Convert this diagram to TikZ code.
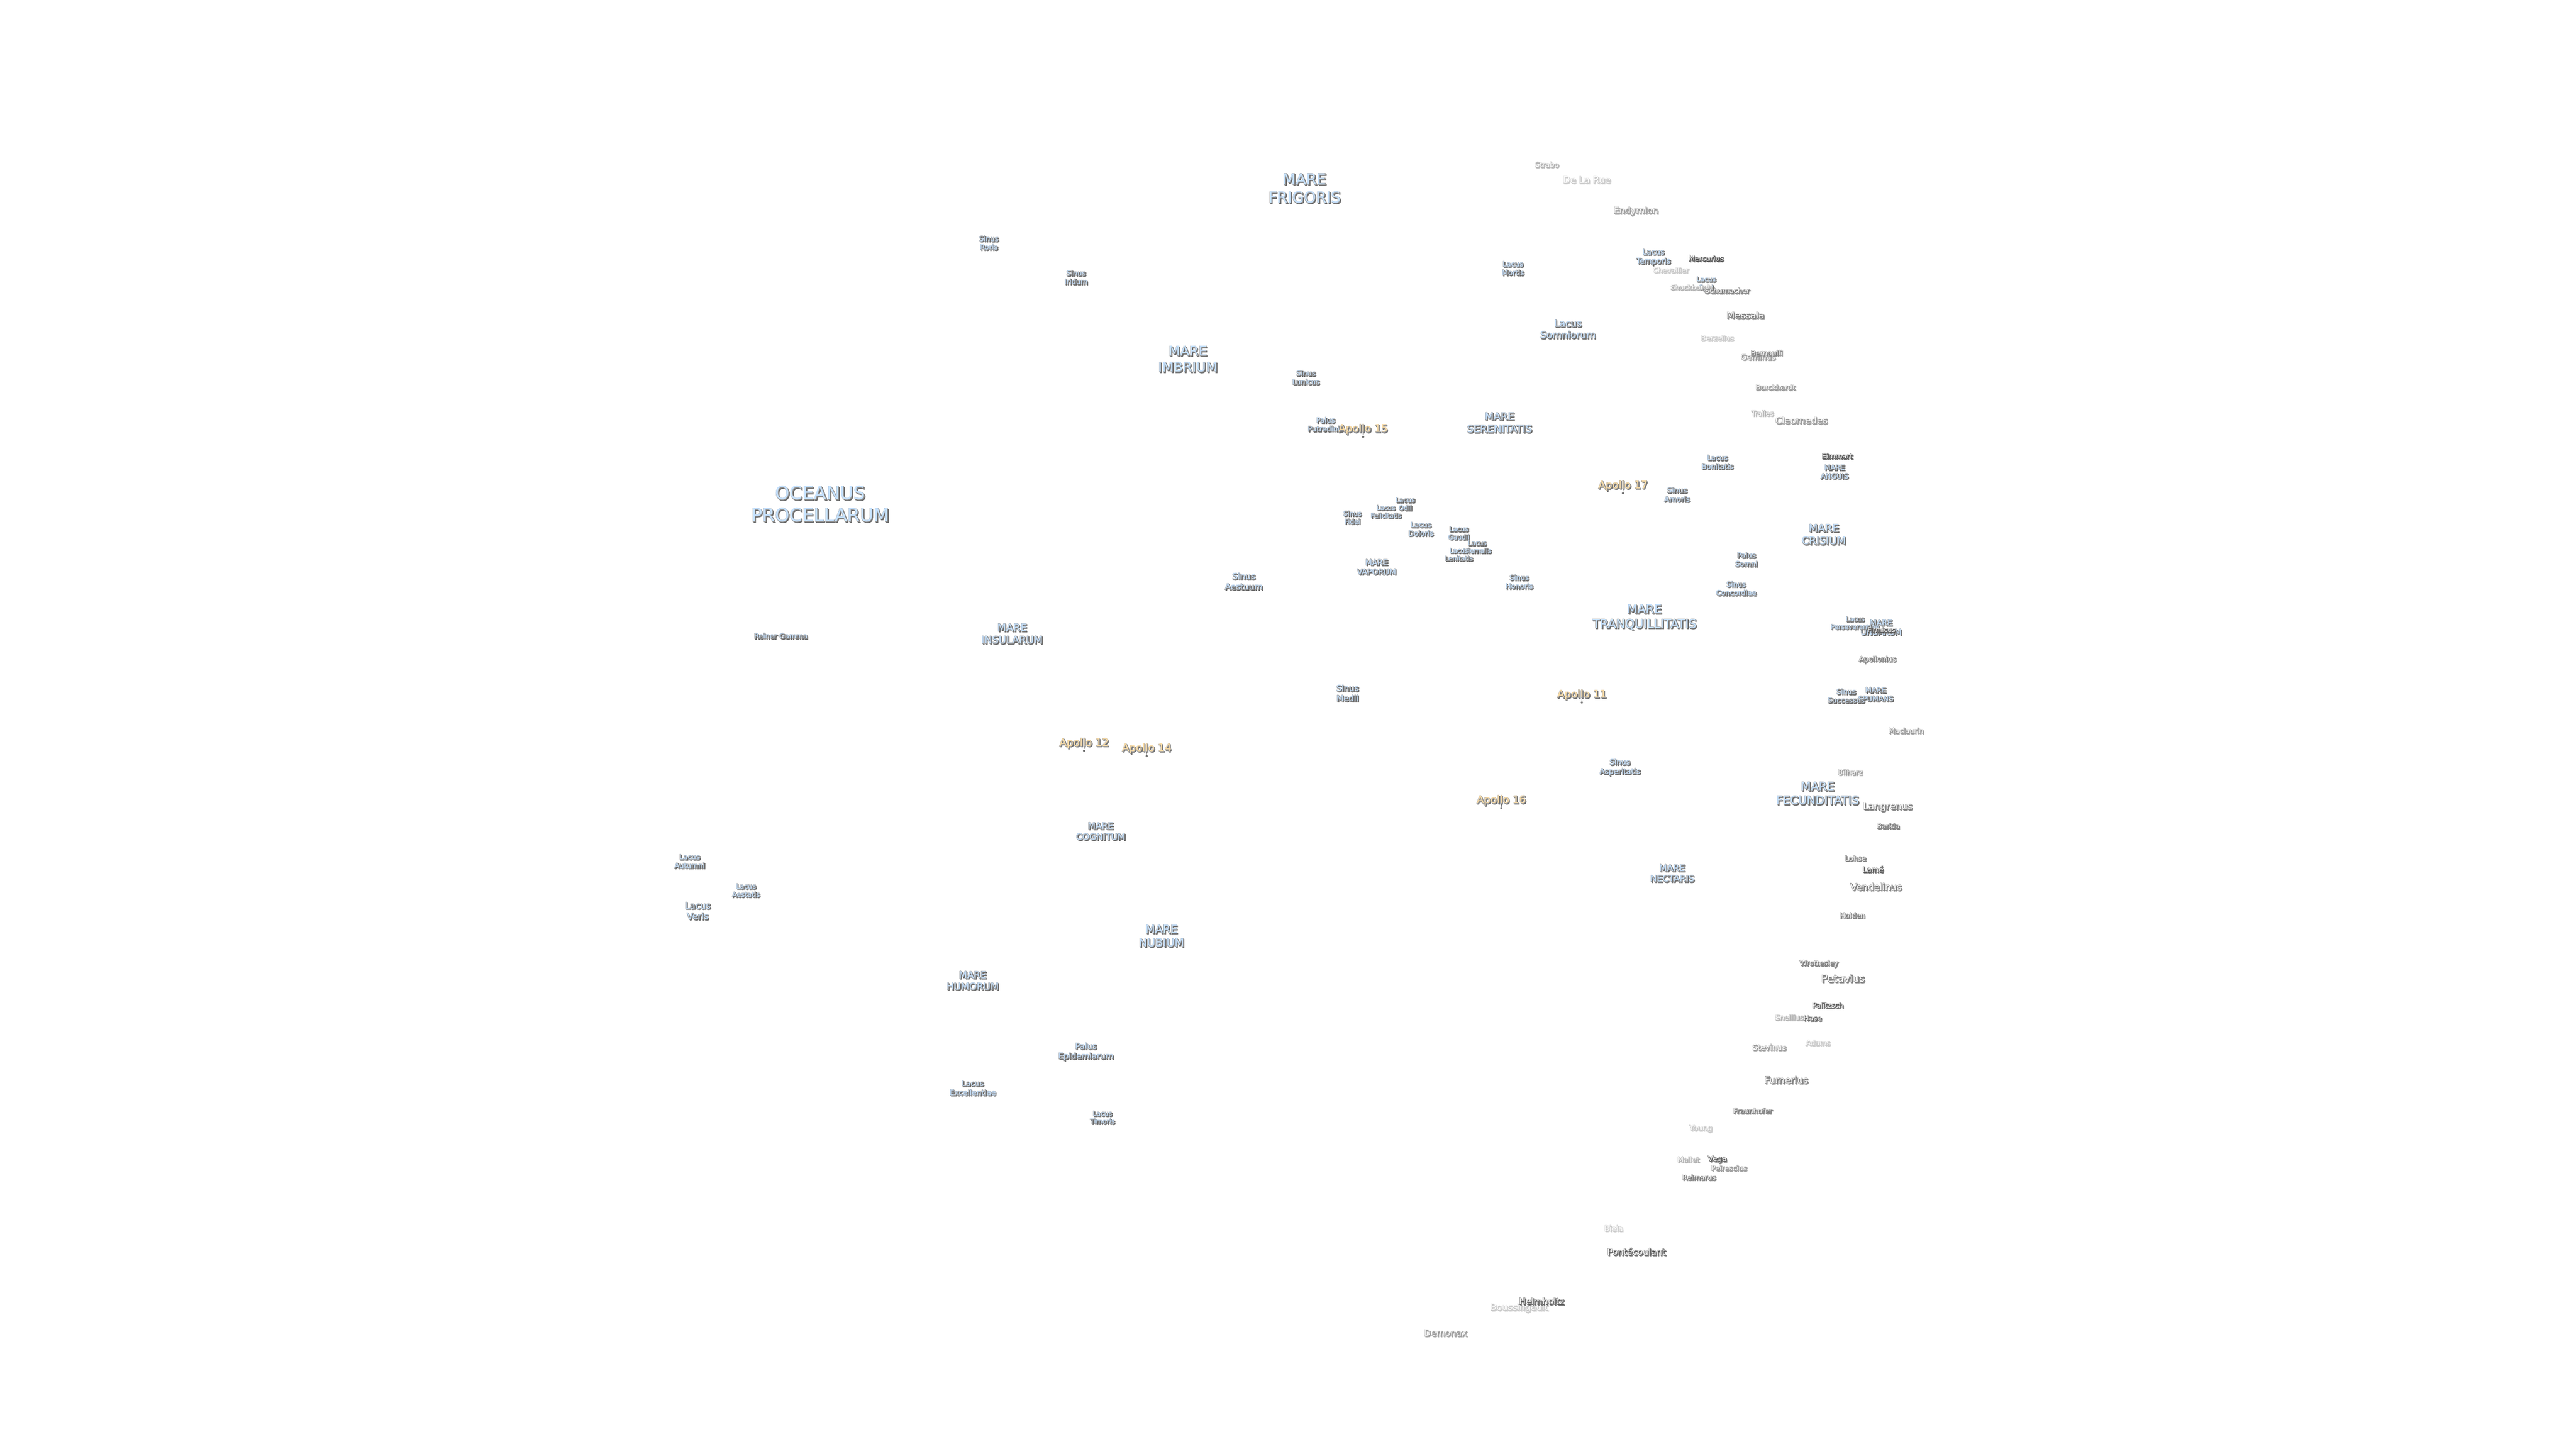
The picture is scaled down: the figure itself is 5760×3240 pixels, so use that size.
\documentclass[tikz,border=0pt]{standalone}
\usepackage{fontspec}
\setmainfont{DejaVu Sans}
\definecolor{seablue}{HTML}{C6E2FF}
\definecolor{sitegold}{HTML}{FFDFA6}
\newcommand{\edgelev}{0.6}
\newcommand{\shadelev}{0.42}
\newcommand{\outl}[2]{\special{pdf:code 2 Tr 0.3 w #1\space G}\textcolor[gray]{#1}{#2}\special{pdf:code 0 Tr}}
\newcommand{\tx}[1]{\leavevmode\rlap{\kern.4pt\raisebox{-.4pt}{\outl{\shadelev}{#1}}}\rlap{\outl{\edgelev}{#1}}#1}
\tikzstyle{fsz}=[font=\fontsize{#1}{\the\dimexpr#1pt*12/10\relax}\selectfont]
\tikzstyle{sea}=[inner sep=0pt, align=center, text=seablue, fsz=#1]
\tikzstyle{site}=[inner sep=0pt, text=sitegold, fsz=4.7,
    execute at begin node={\def\edgelev{0.62}\def\shadelev{0.45}}]
\tikzstyle{sitedot}=[circle, fill=black!55, inner sep=0pt, minimum size=1pt]
\tikzstyle{sitetick}=[black!55, line width=.3pt]
\tikzstyle{cratera}=[inner sep=0pt, text=white, fsz=#1,
    execute at begin node={\def\edgelev{0.3}\def\shadelev{0.5}}]
\tikzstyle{craterb}=[inner sep=0pt, text=white, fsz=#1,
    execute at begin node={\def\edgelev{0.48}\def\shadelev{0.56}}]
\tikzstyle{craterc}=[inner sep=0pt, text=white, fsz=#1,
    execute at begin node={\def\edgelev{0.6}\def\shadelev{0.66}}]
\tikzstyle{craterd}=[inner sep=0pt, text=white, fsz=#1,
    execute at begin node={\def\edgelev{0.7}\def\shadelev{0.74}}]
\tikzstyle{cratere}=[inner sep=0pt, text=white, fsz=#1,
    execute at begin node={\def\edgelev{0.78}\def\shadelev{0.82}}]
\begin{document}
\begin{tikzpicture}[x=.2pt, y=-.2pt]
    \useasboundingbox (0,0) rectangle (5760,3240);
    % seas
    \node[sea=8.2] (oceanus) at (1834,1128) {\tx{OCEANUS}\\\tx{PROCELLARUM}};
    \node[sea=6.8] (frigoris) at (2917,422) {\tx{MARE}\\\tx{FRIGORIS}};
    \node[sea=6] (imbrium) at (2656,804) {\tx{MARE}\\\tx{IMBRIUM}};
    \node[sea=4.6] (serenitatis) at (3353,946) {\tx{MARE}\\\tx{SERENITATIS}};
    \node[sea=5.4] (tranquillitatis) at (3677,1381) {\tx{MARE}\\\tx{TRANQUILLITATIS}};
    \node[sea=4.7] (crisium) at (4078,1196) {\tx{MARE}\\\tx{CRISIUM}};
    \node[sea=5.2] (fecunditatis) at (4064,1775) {\tx{MARE}\\\tx{FECUNDITATIS}};
    \node[sea=4] (nectaris) at (3739,1954) {\tx{MARE}\\\tx{NECTARIS}};
    \node[sea=5] (nubium) at (2597,2094) {\tx{MARE}\\\tx{NUBIUM}};
    \node[sea=4.3] (humorum) at (2175,2194) {\tx{MARE}\\\tx{HUMORUM}};
    \node[sea=4] (cognitum) at (2461,1860) {\tx{MARE}\\\tx{COGNITUM}};
    \node[sea=4.6] (insularum) at (2263,1418) {\tx{MARE}\\\tx{INSULARUM}};
    \node[sea=3.5] (vaporum) at (3078,1269) {\tx{MARE}\\\tx{VAPORUM}};
    \node[sea=3.2] (anguis) at (4102,1056) {\tx{MARE}\\\tx{ANGUIS}};
    \node[sea=3.5] (undarum) at (4206,1404) {\tx{MARE}\\\tx{UNDARUM}};
    \node[sea=3.2] (spumans) at (4194,1554) {\tx{MARE}\\\tx{SPUMANS}};
    % lakes, bays, marshes
    \node[sea=3.2] (roris) at (2211,544) {\tx{Sinus}\\\tx{Roris}};
    \node[sea=3.2] (iridum) at (2406,621) {\tx{Sinus}\\\tx{Iridum}};
    \node[sea=3.2] (lunicus) at (2920,845) {\tx{Sinus}\\\tx{Lunicus}};
    \node[sea=3.2] (putredinis) at (2964,950) {\tx{Palus}\\\tx{Putredinis}};
    \node[sea=4.3] (somniorumlake) at (3506,737) {\tx{Lacus}\\\tx{Somniorum}};
    \node[sea=3.2] (mortis) at (3383,601) {\tx{Lacus}\\\tx{Mortis}};
    \node[sea=3.4] (temporis) at (3697,576) {\tx{Lacus}\\\tx{Temporis}};
    \node[sea=3] (spei) at (3815,636) {\tx{Lacus}\\\tx{Spei}};
    \node[sea=3.2] (bonitatis) at (3840,1034) {\tx{Lacus}\\\tx{Bonitatis}};
    \node[sea=3.3] (amoris) at (3750,1107) {\tx{Sinus}\\\tx{Amoris}};
    \node[sea=3.2] (somni) at (3905,1252) {\tx{Palus}\\\tx{Somni}};
    \node[sea=3.2] (concordiae) at (3882,1317) {\tx{Sinus}\\\tx{Concordiae}};
    \node[sea=3] (odii) at (3142,1128) {\tx{Lacus}\\\tx{Odii}};
    \node[sea=2.9] (felicitatis) at (3099,1145) {\tx{Lacus}\\\tx{Felicitatis}};
    \node[sea=3] (fidei) at (3024,1158) {\tx{Sinus}\\\tx{Fidei}};
    \node[sea=3.2] (doloris) at (3177,1184) {\tx{Lacus}\\\tx{Doloris}};
    \node[sea=3] (gaudii) at (3262,1193) {\tx{Lacus}\\\tx{Gaudii}};
    \node[sea=2.9] (hiemalis) at (3303,1224) {\tx{Lacus}\\\tx{Hiemalis}};
    \node[sea=2.9] (lenitatis) at (3262,1241) {\tx{Lacus}\\\tx{Lenitatis}};
    \node[sea=3.2] (honoris) at (3397,1302) {\tx{Sinus}\\\tx{Honoris}};
    \node[sea=3.8] (aestuum) at (2781,1301) {\tx{Sinus}\\\tx{Aestuum}};
    \node[sea=3.7] (medii) at (3013,1551) {\tx{Sinus}\\\tx{Medii}};
    \node[sea=3.4] (asperitatis) at (3622,1717) {\tx{Sinus}\\\tx{Asperitatis}};
    \node[sea=2.9] (perseverantiae) at (4148,1394) {\tx{Lacus}\\\tx{Perseverantiae}};
    \node[sea=3.2] (successus) at (4128,1557) {\tx{Sinus}\\\tx{Successus}};
    \node[sea=3.2] (gamma) at (1746,1423) {\tx{Reiner Gamma}};
    \node[sea=3.2] (autumni) at (1542,1927) {\tx{Lacus}\\\tx{Autumni}};
    \node[sea=3.1] (aestatis) at (1668,1992) {\tx{Lacus}\\\tx{Aestatis}};
    \node[sea=4] (veris) at (1560,2038) {\tx{Lacus}\\\tx{Veris}};
    \node[sea=3.7] (epidemiarum) at (2428,2353) {\tx{Palus}\\\tx{Epidemiarum}};
    \node[sea=3.4] (excellentiae) at (2175,2434) {\tx{Lacus}\\\tx{Excellentiae}};
    \node[sea=3] (timoris) at (2465,2500) {\tx{Lacus}\\\tx{Timoris}};
    % landing sites
    \node[site] (a15) at (3048,961) {\tx{Apollo 15}};
    \node[site] (a17) at (3629,1087) {\tx{Apollo 17}};
    \node[site] (a11) at (3537,1555) {\tx{Apollo 11}};
    \node[site] (a12) at (2424,1663) {\tx{Apollo 12}};
    \node[site] (a14) at (2564,1675) {\tx{Apollo 14}};
    \node[site] (a16) at (3357,1791) {\tx{Apollo 16}};
    \foreach \s in {a15,a17,a11,a12,a14,a16} {
        \path (\s.center) ++(0,16) node[sitedot] (\s d) {};
        \path (\s.center) ++(0,7) coordinate (\s t);
        \draw[sitetick] (\s t) -- (\s d);
    }
    % craters
    \node[craterd=3.2] (strabo) at (3459,369) {\tx{Strabo}};
    \node[cratere=4.2] (delarue) at (3548,403) {\tx{De La Rue}};
    \node[craterc=4] (endymion) at (3658,473) {\tx{Endymion}};
    \node[cratere=3.2] (chevallier) at (3736,605) {\tx{Chevallier}};
    \node[craterd=3.1] (shuckburgh) at (3782,645) {\tx{Shuckburgh}};
    \node[cratera=3.2] (mercurius) at (3815,579) {\tx{Mercurius}};
    \node[craterb=3.2] (schumacher) at (3862,651) {\tx{Schumacher}};
    \node[craterb=4.2] (messala) at (3903,706) {\tx{Messala}};
    \node[cratere=3.2] (berzelius) at (3840,757) {\tx{Berzelius}};
    \node[craterc=3.5] (geminus) at (3931,799) {\tx{Geminus}};
    \node[craterb=3.2] (bernoulli) at (3950,790) {\tx{Bernoulli}};
    \node[craterc=3.2] (burckhardt) at (3970,867) {\tx{Burckhardt}};
    \node[craterd=3.1] (tralles) at (3941,925) {\tx{Tralles}};
    \node[craterc=4.2] (cleomedes) at (4028,941) {\tx{Cleomedes}};
    \node[cratera=3.2] (eimmart) at (4108,1021) {\tx{Eimmart}};
    \node[cratera=3] (firmicus) at (4207,1410) {\tx{Firmicus}};
    \node[craterb=3.2] (apollonius) at (4198,1476) {\tx{Apollonius}};
    \node[craterc=3.2] (maclaurin) at (4262,1635) {\tx{Maclaurin}};
    \node[craterc=3.2] (bilharz) at (4137,1728) {\tx{Bilharz}};
    \node[craterb=4.2] (langrenus) at (4221,1806) {\tx{Langrenus}};
    \node[craterb=3.2] (barkla) at (4222,1848) {\tx{Barkla}};
    \node[craterb=3.2] (lohse) at (4149,1920) {\tx{Lohse}};
    \node[cratera=3.4] (lame) at (4188,1945) {\tx{Lamé}};
    \node[craterb=4.2] (vendelinus) at (4195,1984) {\tx{Vendelinus}};
    \node[craterb=3.2] (holden) at (4142,2048) {\tx{Holden}};
    \node[craterb=3.2] (wrottesley) at (4067,2156) {\tx{Wrottesley}};
    \node[craterb=4.6] (petavius) at (4121,2189) {\tx{Petavius}};
    \node[cratera=3.2] (palitzsch) at (4087,2249) {\tx{Palitzsch}};
    \node[craterd=3.3] (snellius) at (4001,2276) {\tx{Snellius}};
    \node[cratera=3.2] (hase) at (4053,2278) {\tx{Hase}};
    \node[cratere=3.2] (adams) at (4065,2333) {\tx{Adams}};
    \node[craterc=3.5] (stevinus) at (3956,2343) {\tx{Stevinus}};
    \node[craterb=4.2] (furnerius) at (3994,2416) {\tx{Furnerius}};
    \node[craterb=3.2] (fraunhofer) at (3919,2485) {\tx{Fraunhofer}};
    \node[cratere=3.4] (young) at (3803,2525) {\tx{Young}};
    \node[craterd=3.2] (mallet) at (3775,2594) {\tx{Mallet}};
    \node[cratera=3.4] (vega) at (3840,2594) {\tx{Vega}};
    \node[craterc=3.2] (peirescius) at (3866,2613) {\tx{Peirescius}};
    \node[craterb=3.2] (reimarus) at (3799,2634) {\tx{Reimarus}};
    \node[cratere=3.4] (biela) at (3608,2748) {\tx{Biela}};
    \node[cratera=4] (pontecoulant) at (3659,2800) {\tx{Pontécoulant}};
    \node[cratere=4] (boussingault) at (3397,2926) {\tx{Boussingault}};
    \node[cratera=4] (helmholtz) at (3447,2911) {\tx{Helmholtz}};
    \node[craterc=4] (demonax) at (3232,2982) {\tx{Demonax}};
\end{tikzpicture}
\end{document}
